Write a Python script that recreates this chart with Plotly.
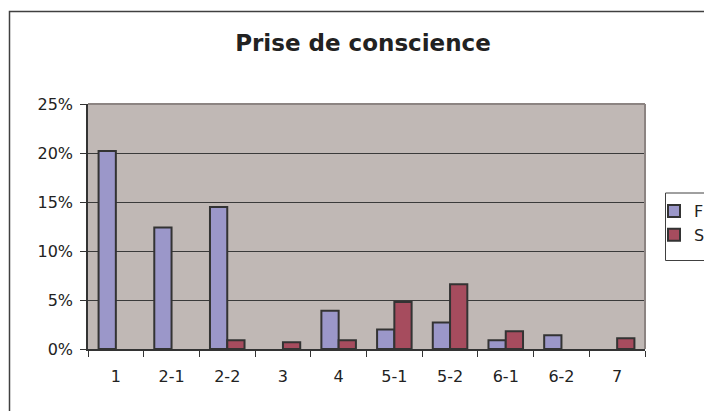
import plotly.graph_objects as go

# Category labels and share of answers per series (None = no bar)
categories = ["1", "2-1", "2-2", "3", "4", "5-1", "5-2", "6-1", "6-2", "7"]
series_f = [0.202, 0.124, 0.145, None, 0.039, 0.020, 0.027, 0.009, 0.014, None]
series_s = [None, None, 0.009, 0.007, 0.009, 0.048, 0.066, 0.018, None, 0.011]
y_ticks = [0, 0.05, 0.10, 0.15, 0.20, 0.25]

W, H = 704, 411
L, R, T, B = 88, 645, 104, 349  # plot area in pixels
pw, ph = R - L, B - T


def px_x(x):
    return (x - L) / pw


def px_y(y):
    return (B - y) / ph


fig = go.Figure()
fig.add_trace(go.Bar(
    name="F", x=categories, y=series_f,
    marker=dict(color="#9B97C9", line=dict(color="#333333", width=2)),
))
fig.add_trace(go.Bar(
    name="S", x=categories, y=series_s,
    marker=dict(color="#A64C5E", line=dict(color="#333333", width=2)),
))

fig.update_layout(
    width=W, height=H,
    margin=dict(l=L, r=W - R, t=T, b=H - B, pad=0, autoexpand=False),
    paper_bgcolor="white",
    plot_bgcolor="#C0B8B5",
    barmode="group",
    bargap=0.38,
    bargroupgap=0,
    font=dict(family="DejaVu Sans", size=16, color="#222222"),
    title=dict(
        text="<b>Prise de conscience</b>",
        x=363 / W, xanchor="center",
        y=1 - 43 / H, yanchor="middle",
        font=dict(family="DejaVu Sans", size=23, color="#222222"),
    ),
    showlegend=True,
    legend=dict(
        x=px_x(654), xanchor="left",
        y=px_y(194), yanchor="top",
        bgcolor="rgba(0,0,0,0)", borderwidth=0,
        font=dict(family="DejaVu Sans", size=16, color="#222222"),
        itemclick=False,
    ),
    xaxis=dict(
        type="category",
        showgrid=False,
        showline=True, linecolor="#333333", linewidth=1.5,
        ticks="outside", tickson="boundaries", ticklen=6,
        tickcolor="#333333", tickwidth=1,
        tickfont=dict(family="DejaVu Sans", size=16, color="#222222"),
        ticklabelstandoff=12,
        fixedrange=True,
    ),
    yaxis=dict(
        range=[0, 0.25],
        tickvals=y_ticks,
        tickformat=".0%",
        showgrid=True, gridcolor="#3A3A3A", gridwidth=1,
        zeroline=False,
        showline=True, linecolor="#333333", linewidth=1.5,
        ticks="outside", ticklen=6, tickcolor="#333333", tickwidth=1,
        tickfont=dict(family="DejaVu Sans", size=16, color="#222222"),
        ticklabelstandoff=4,
        fixedrange=True,
    ),
    shapes=[
        # plot-area frame: top and right edges in grey
        dict(type="line", xref="paper", yref="paper", x0=0, x1=1, y0=1, y1=1,
             line=dict(color="#8C8482", width=2), layer="above"),
        dict(type="line", xref="paper", yref="paper", x0=1, x1=1, y0=0, y1=1,
             line=dict(color="#8C8482", width=2), layer="above"),
        # legend frame
        dict(type="rect", xref="paper", yref="paper",
             x0=px_x(665.5), x1=px_x(740), y0=px_y(260.5), y1=px_y(193),
             line=dict(color="#404040", width=1), fillcolor="rgba(0,0,0,0)",
             layer="below"),
        # chart-area border
        dict(type="rect", xref="paper", yref="paper",
             x0=px_x(9.5), x1=px_x(760), y0=px_y(470), y1=px_y(11.5),
             line=dict(color="#404040", width=1.5), fillcolor="rgba(0,0,0,0)",
             layer="below"),
    ],
)

fig.write_html("out.html")
